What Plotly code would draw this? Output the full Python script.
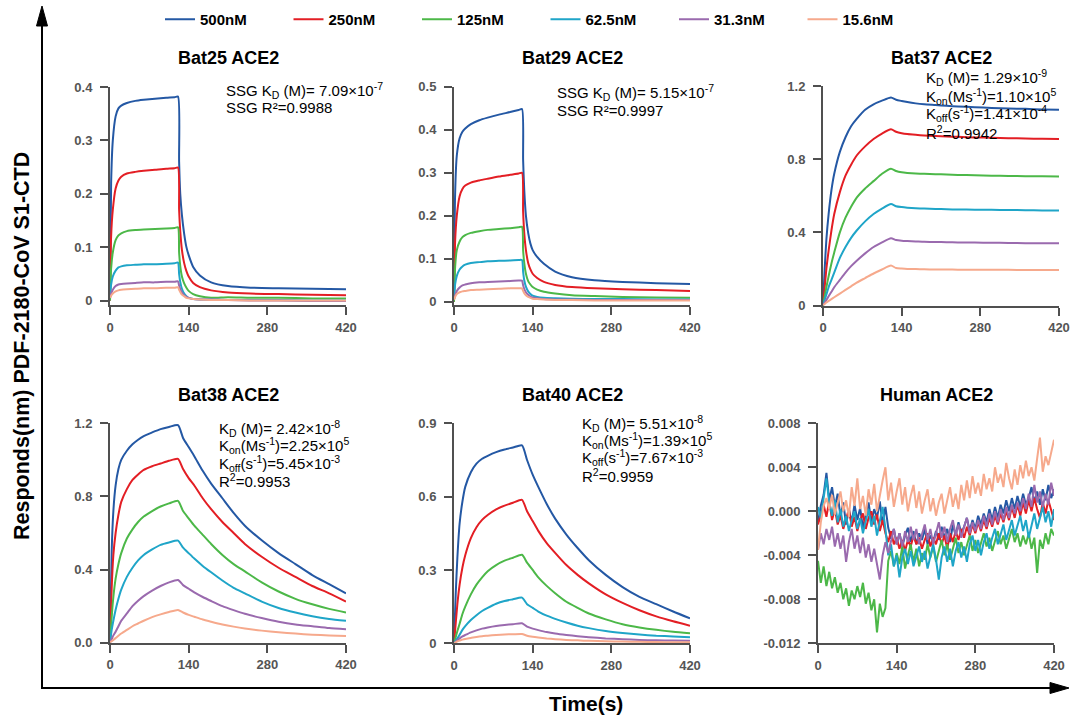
import plotly.graph_objects as go

W, H = 1073, 717
def px(x): return x / W
def py(y): return 1 - y / H

SERIES = ["500nM", "250nM", "125nM", "62.5nM", "31.3nM", "15.6nM"]
COLORS = ["#2458a4", "#e31e24", "#4cb848", "#1fa5c8", "#9a6aae", "#f6a98c"]

# time grids (s)
T_SSG = [0, 2, 5, 10, 15, 20, 30, 45, 60, 80, 100, 115, 121, 123, 125, 128, 132, 136, 140, 148, 160, 180, 210, 250, 300, 360, 420]
T_KIN = [0, 3, 6, 10, 15, 20, 30, 40, 50, 60, 75, 90, 105, 121, 130, 140, 150, 165, 180, 200, 220, 240, 270, 300, 330, 360, 390, 420]

# Bat25 ACE2
bat25_500 = [0.0, 0.22, 0.30, 0.345, 0.36, 0.365, 0.37, 0.374, 0.376, 0.378, 0.380, 0.381, 0.382, 0.26, 0.20, 0.16, 0.125, 0.10, 0.085, 0.063, 0.047, 0.034, 0.027, 0.024, 0.023, 0.022, 0.021]
bat25_250 = [0.0, 0.12, 0.17, 0.21, 0.225, 0.232, 0.238, 0.241, 0.243, 0.245, 0.247, 0.248, 0.249, 0.17, 0.13, 0.095, 0.07, 0.055, 0.045, 0.033, 0.025, 0.019, 0.015, 0.013, 0.012, 0.011, 0.010]
bat25_125 = [0.0, 0.06, 0.09, 0.113, 0.122, 0.126, 0.13, 0.132, 0.133, 0.134, 0.135, 0.136, 0.137, 0.09, 0.065, 0.045, 0.032, 0.024, 0.018, 0.012, 0.008, 0.005, 0.006, 0.005, 0.005, 0.004, 0.004]
bat25_62 = [0.005, 0.03, 0.045, 0.056, 0.062, 0.064, 0.066, 0.067, 0.068, 0.068, 0.069, 0.07, 0.071, 0.05, 0.035, 0.022, 0.013, 0.008, 0.005, 0.003, 0.002, 0.002, 0.001, 0.001, 0.001, 0.0, 0.0]
bat25_31 = [0.005, 0.013, 0.02, 0.027, 0.03, 0.031, 0.032, 0.033, 0.034, 0.034, 0.035, 0.035, 0.036, 0.028, 0.022, 0.015, 0.01, 0.007, 0.005, 0.003, 0.002, 0.002, 0.001, 0.0, 0.0, -0.001, -0.001]
bat25_15 = [0.005, 0.009, 0.013, 0.017, 0.019, 0.02, 0.021, 0.022, 0.023, 0.023, 0.024, 0.024, 0.025, 0.02, 0.016, 0.011, 0.008, 0.005, 0.004, 0.003, 0.002, 0.001, 0.001, 0.0, 0.0, 0.0, 0.0]

# Bat29 ACE2
bat29_500 = [0.0, 0.25, 0.34, 0.38, 0.395, 0.403, 0.413, 0.422, 0.428, 0.435, 0.441, 0.446, 0.448, 0.33, 0.26, 0.20, 0.16, 0.135, 0.12, 0.104, 0.088, 0.07, 0.057, 0.05, 0.046, 0.043, 0.041]
bat29_250 = [0.0, 0.14, 0.2, 0.245, 0.262, 0.27, 0.277, 0.282, 0.286, 0.291, 0.295, 0.298, 0.30, 0.21, 0.16, 0.12, 0.09, 0.075, 0.065, 0.055, 0.046, 0.039, 0.034, 0.031, 0.029, 0.027, 0.025]
bat29_125 = [0.0, 0.08, 0.12, 0.14, 0.15, 0.155, 0.16, 0.164, 0.167, 0.169, 0.171, 0.173, 0.174, 0.12, 0.09, 0.065, 0.048, 0.04, 0.034, 0.028, 0.023, 0.019, 0.015, 0.013, 0.011, 0.01, 0.009]
bat29_62 = [0.005, 0.04, 0.06, 0.075, 0.082, 0.086, 0.09, 0.092, 0.094, 0.095, 0.096, 0.097, 0.097, 0.07, 0.05, 0.035, 0.024, 0.018, 0.014, 0.011, 0.009, 0.008, 0.007, 0.006, 0.006, 0.005, 0.005]
bat29_31 = [0.005, 0.015, 0.025, 0.033, 0.038, 0.04, 0.043, 0.045, 0.046, 0.047, 0.048, 0.049, 0.049, 0.038, 0.03, 0.022, 0.016, 0.012, 0.01, 0.008, 0.006, 0.005, 0.005, 0.004, 0.004, 0.004, 0.004]
bat29_15 = [0.005, 0.011, 0.018, 0.022, 0.024, 0.025, 0.027, 0.028, 0.029, 0.03, 0.031, 0.031, 0.031, 0.025, 0.02, 0.015, 0.011, 0.009, 0.007, 0.006, 0.005, 0.004, 0.004, 0.003, 0.003, 0.003, 0.003]

# Bat37 ACE2
bat37_500 = [0.0, 0.2, 0.36, 0.5, 0.63, 0.72, 0.84, 0.92, 0.98, 1.02, 1.07, 1.1, 1.12, 1.137, 1.125, 1.118, 1.112, 1.105, 1.1, 1.096, 1.092, 1.088, 1.084, 1.08, 1.077, 1.075, 1.072, 1.07]
bat37_250 = [0.0, 0.1, 0.2, 0.3, 0.41, 0.5, 0.62, 0.71, 0.77, 0.82, 0.87, 0.91, 0.94, 0.963, 0.95, 0.942, 0.937, 0.933, 0.93, 0.927, 0.924, 0.922, 0.919, 0.917, 0.915, 0.913, 0.911, 0.91]
bat37_125 = [0.0, 0.05, 0.1, 0.16, 0.23, 0.29, 0.4, 0.48, 0.54, 0.59, 0.64, 0.68, 0.72, 0.748, 0.735, 0.728, 0.725, 0.722, 0.72, 0.718, 0.716, 0.714, 0.712, 0.71, 0.708, 0.707, 0.706, 0.705]
bat37_62 = [0.0, 0.03, 0.06, 0.1, 0.14, 0.18, 0.26, 0.32, 0.37, 0.41, 0.46, 0.5, 0.53, 0.555, 0.543, 0.538, 0.535, 0.532, 0.53, 0.528, 0.526, 0.525, 0.524, 0.523, 0.522, 0.521, 0.52, 0.52]
bat37_31 = [0.0, 0.015, 0.03, 0.05, 0.075, 0.1, 0.14, 0.18, 0.215, 0.245, 0.285, 0.32, 0.345, 0.368, 0.358, 0.354, 0.352, 0.35, 0.348, 0.347, 0.346, 0.345, 0.344, 0.343, 0.342, 0.341, 0.34, 0.34]
bat37_15 = [0.0, 0.008, 0.016, 0.025, 0.035, 0.045, 0.065, 0.085, 0.105, 0.125, 0.15, 0.175, 0.197, 0.218, 0.205, 0.202, 0.2, 0.199, 0.198, 0.197, 0.197, 0.196, 0.196, 0.195, 0.195, 0.194, 0.194, 0.194]

# Bat38 ACE2
bat38_500 = [0.0, 0.5, 0.72, 0.86, 0.95, 1.0, 1.05, 1.085, 1.11, 1.13, 1.15, 1.168, 1.18, 1.19, 1.12, 1.07, 1.02, 0.94, 0.87, 0.79, 0.71, 0.64, 0.56, 0.49, 0.43, 0.37, 0.32, 0.27]
bat38_250 = [0.0, 0.3, 0.48, 0.6, 0.7, 0.77, 0.84, 0.89, 0.92, 0.945, 0.965, 0.98, 0.995, 1.005, 0.95, 0.9, 0.86, 0.79, 0.73, 0.66, 0.6, 0.54, 0.47, 0.41, 0.36, 0.31, 0.27, 0.225]
bat38_125 = [0.0, 0.14, 0.25, 0.35, 0.43, 0.49, 0.57, 0.62, 0.66, 0.69, 0.72, 0.745, 0.762, 0.776, 0.72, 0.68, 0.64, 0.59, 0.54, 0.48, 0.43, 0.39, 0.33, 0.28, 0.24, 0.21, 0.185, 0.165]
bat38_62 = [0.0, 0.07, 0.12, 0.18, 0.24, 0.29, 0.36, 0.41, 0.45, 0.48, 0.51, 0.535, 0.548, 0.558, 0.52, 0.49, 0.46, 0.42, 0.385, 0.34, 0.3, 0.27, 0.225, 0.19, 0.165, 0.145, 0.13, 0.12]
bat38_31 = [0.0, 0.02, 0.04, 0.06, 0.09, 0.12, 0.16, 0.2, 0.23, 0.255, 0.285, 0.31, 0.33, 0.343, 0.315, 0.295, 0.275, 0.25, 0.228, 0.2, 0.178, 0.158, 0.135, 0.115, 0.1, 0.09, 0.08, 0.073]
bat38_15 = [0.0, 0.008, 0.015, 0.025, 0.038, 0.05, 0.07, 0.09, 0.105, 0.12, 0.14, 0.155, 0.168, 0.179, 0.165, 0.152, 0.142, 0.127, 0.115, 0.1, 0.088, 0.078, 0.066, 0.057, 0.05, 0.044, 0.04, 0.036]

# Bat40 ACE2
bat40_500 = [0.0, 0.2, 0.35, 0.49, 0.58, 0.64, 0.7, 0.735, 0.755, 0.767, 0.782, 0.793, 0.801, 0.81, 0.75, 0.69, 0.64, 0.57, 0.51, 0.445, 0.39, 0.34, 0.28, 0.23, 0.19, 0.16, 0.13, 0.102]
bat40_250 = [0.0, 0.08, 0.16, 0.24, 0.31, 0.36, 0.43, 0.475, 0.505, 0.525, 0.548, 0.563, 0.575, 0.587, 0.54, 0.5, 0.46, 0.41, 0.37, 0.32, 0.28, 0.245, 0.2, 0.165, 0.135, 0.11, 0.09, 0.072]
bat40_125 = [0.0, 0.025, 0.05, 0.08, 0.12, 0.15, 0.2, 0.24, 0.27, 0.295, 0.32, 0.338, 0.35, 0.362, 0.33, 0.3, 0.27, 0.235, 0.205, 0.17, 0.145, 0.122, 0.098, 0.078, 0.065, 0.055, 0.047, 0.041]
bat40_62 = [0.0, 0.01, 0.02, 0.035, 0.055, 0.07, 0.095, 0.115, 0.132, 0.145, 0.162, 0.173, 0.18, 0.187, 0.16, 0.145, 0.13, 0.113, 0.1, 0.085, 0.072, 0.062, 0.05, 0.042, 0.036, 0.031, 0.028, 0.025]
bat40_31 = [0.0, 0.006, 0.012, 0.02, 0.028, 0.034, 0.045, 0.053, 0.06, 0.065, 0.071, 0.075, 0.078, 0.082, 0.068, 0.06, 0.054, 0.046, 0.04, 0.034, 0.029, 0.025, 0.02, 0.017, 0.014, 0.012, 0.011, 0.01]
bat40_15 = [0.0, 0.004, 0.008, 0.011, 0.015, 0.018, 0.022, 0.026, 0.029, 0.031, 0.034, 0.036, 0.037, 0.038, 0.031, 0.027, 0.024, 0.02, 0.017, 0.014, 0.012, 0.01, 0.008, 0.007, 0.006, 0.005, 0.004, 0.004]

# Human ACE2 (values in 1e-3 nm, sampled every 5 s from 0 to 420 s)
T_HUM = list(range(0, 421, 5))
hum_500 = [-1.0, 0.5, 1.5, 3.5, 1.0, 2.2, 0.4, 1.6, -0.5, 0.8,
           -1.2, 0.2, -1.0, 0.6, -0.8, 0.3, -1.5, -0.2, 0.8, -1.0,
           0.2, -0.6, 0.9, -1.2, 0.4, -1.5, -2.5, -1.6, -3.0, -2.0,
           -3.2, -2.2, -1.5, -2.8, -1.8, -3.0, -2.0, -2.6, -1.6, -3.0,
           -2.2, -2.8, -1.8, -2.6, -1.4, -2.4, -1.6, -2.8, -1.2, -2.2,
           -1.0, -2.0, -1.4, -0.6, -1.8, -0.8, -1.6, -0.4, -1.2, -0.2,
           -1.0, 0.2, -0.8, 0.4, -0.6, 0.6, -0.2, 1.0, 0.0, 1.2,
           0.2, 1.4, 0.4, 1.6, 0.6, 1.2, 2.2, 0.8, 1.8, 0.6,
           2.0, 1.0, 2.4, 1.2, 2.0]
hum_250 = [-1.2, -0.2, 0.6, -0.5, 1.0, -0.8, 0.2, -1.2, -0.4, -1.6,
           -0.6, 0.2, -1.4, -0.5, -1.8, -0.8, -0.2, -1.6, -0.6, 0.0,
           -1.2, -0.3, -1.8, -0.8, -2.0, -2.8, -1.8, -3.0, -2.4, -3.4,
           -2.6, -3.6, -2.6, -3.2, -2.2, -3.0, -2.4, -3.4, -2.6, -2.0,
           -3.2, -2.4, -3.0, -2.0, -3.0, -2.2, -3.4, -2.0, -2.8, -1.8,
           -2.6, -1.6, -2.4, -1.4, -2.2, -1.2, -2.0, -1.0, -1.8, -0.8,
           -1.6, -0.6, -1.4, -0.4, -1.2, -0.2, -1.0, 0.0, -0.8, 0.4,
           -0.6, 0.6, -0.4, 0.8, -0.2, 1.0, 0.0, 1.2, 0.2, -0.6,
           0.8, -0.2, 1.0, 0.2, -0.8]
hum_125 = [-4.5, -6.5, -5.0, -6.8, -5.5, -7.0, -6.0, -7.4, -6.5, -8.0,
           -7.0, -8.6, -7.2, -8.0, -6.8, -7.8, -6.5, -8.4, -7.4, -9.0,
           -8.0, -11.0, -8.4, -9.6, -8.8, -4.5, -3.6, -5.0, -3.8, -4.8,
           -3.2, -5.2, -4.0, -3.0, -4.6, -3.4, -5.0, -3.8, -4.4, -3.0,
           -4.2, -3.2, -4.6, -3.6, -2.6, -4.0, -3.0, -4.4, -3.4, -2.4,
           -3.8, -2.8, -4.0, -3.0, -2.2, -3.6, -2.6, -3.8, -2.8, -2.0,
           -3.2, -2.4, -3.6, -2.6, -1.8, -3.0, -2.2, -3.4, -2.4, -1.6,
           -2.8, -2.0, -3.2, -2.2, -3.0, -2.0, -3.4, -2.4, -5.6, -2.6,
           -3.4, -2.0, -3.0, -1.6, -2.2]
hum_62 = [0.4, -0.6, 1.2, 3.0, 0.8, -0.4, 1.0, -1.0, 0.2, -1.4,
          -0.4, -1.8, -0.8, 0.0, -1.6, -0.6, -2.0, -1.0, 0.2, -1.4,
          -0.4, -2.2, -1.0, 0.4, -1.6, -4.0, -3.0, -5.0, -4.0, -6.0,
          -4.2, -3.4, -4.8, -3.6, -5.0, -4.0, -3.2, -4.6, -3.6, -5.2,
          -4.0, -3.0, -4.4, -6.2, -4.2, -3.2, -4.6, -3.4, -5.0, -3.6,
          -2.8, -4.2, -3.2, -4.6, -3.0, -2.2, -3.6, -2.6, -4.0, -2.8,
          -2.0, -3.4, -2.4, -1.6, -3.0, -2.0, -1.2, -2.6, -1.6, -0.8,
          -2.2, -1.2, -0.4, -1.8, -0.8, -2.4, -1.2, -0.2, -1.6, -0.6,
          0.4, -1.0, 0.0, -1.4, 0.2]
hum_31 = [-3.5, -2.0, -3.0, -1.6, -2.6, -1.4, -3.2, -2.0, -3.4, -2.2,
          -4.6, -2.8, -1.6, -3.4, -2.2, -3.8, -2.4, -4.2, -3.0, -4.6,
          -3.4, -5.0, -6.2, -4.0, -2.8, -3.8, -2.6, -1.6, -3.0, -2.0,
          -3.2, -1.8, -2.8, -1.4, -2.6, -1.6, -3.0, -2.0, -1.2, -2.6,
          -1.6, -3.0, -2.0, -1.0, -2.4, -1.4, -2.8, -1.6, -0.8, -2.2,
          -1.2, -2.4, -1.4, -0.6, -2.0, -1.0, -1.8, -0.8, -1.6, -0.4,
          -1.4, -0.2, -1.2, 0.0, -1.0, 0.2, -0.8, 0.4, -0.6, 0.6,
          -0.2, 0.8, 0.0, 1.2, 0.2, 1.6, 0.4, 2.4, 0.8, 1.8,
          0.4, 1.6, 0.6, 2.6, 1.4]
hum_15 = [-3.5, -1.0, 0.5, 1.2, 0.2, 1.5, -0.3, 0.8, 1.8, 0.0,
          1.0, -0.5, 2.2, 0.5, 3.0, 0.2, 1.4, -0.4, 2.0, 0.6,
          2.5, 0.0, 1.6, 2.8, 4.0, 1.0, 2.6, 0.4, 1.8, 3.0,
          0.6, 2.2, 0.0, 1.4, 2.4, 0.3, 1.8, -0.2, 1.0, 2.0,
          0.0, 1.2, -0.4, 0.8, 1.6, -0.2, 1.0, 2.2, 0.4, 1.6,
          0.2, 2.4, 1.0, 2.8, 1.2, 3.2, 1.6, 2.6, 1.4, 3.4,
          2.0, 3.0, 1.8, 4.0, 2.6, 3.4, 2.2, 4.4, 3.0, 2.0,
          3.8, 2.4, 4.2, 3.0, 4.6, 3.2, 4.0, 2.8, 4.8, 6.7,
          3.6, 5.0, 4.2, 5.4, 6.5]

X_TICKS = [0, 140, 280, 420]

panels = [
    dict(title="Bat25 ACE2", t=T_SSG, ys=[bat25_500, bat25_250, bat25_125, bat25_62, bat25_31, bat25_15], scale=1.0,
         dom=(110, 346, 87, 305), yr=[-0.0084, 0.4], yt=[0, 0.1, 0.2, 0.3, 0.4], ytt=["0", "0.1", "0.2", "0.3", "0.4"], shape="spline"),
    dict(title="Bat29 ACE2", t=T_SSG, ys=[bat29_500, bat29_250, bat29_125, bat29_62, bat29_31, bat29_15], scale=1.0,
         dom=(454, 690, 86.7, 305), yr=[-0.0077, 0.5], yt=[0, 0.1, 0.2, 0.3, 0.4, 0.5], ytt=["0", "0.1", "0.2", "0.3", "0.4", "0.5"], shape="spline"),
    dict(title="Bat37 ACE2", t=T_KIN, ys=[bat37_500, bat37_250, bat37_125, bat37_62, bat37_31, bat37_15], scale=1.0,
         dom=(823, 1059, 86, 305.5), yr=[0, 1.2], yt=[0, 0.4, 0.8, 1.2], ytt=["0", "0.4", "0.8", "1.2"], shape="spline"),
    dict(title="Bat38 ACE2", t=T_KIN, ys=[bat38_500, bat38_250, bat38_125, bat38_62, bat38_31, bat38_15], scale=1.0,
         dom=(110, 346, 423.3, 642.7), yr=[0, 1.2], yt=[0, 0.4, 0.8, 1.2], ytt=["0.0", "0.4", "0.8", "1.2"], shape="spline"),
    dict(title="Bat40 ACE2", t=T_KIN, ys=[bat40_500, bat40_250, bat40_125, bat40_62, bat40_31, bat40_15], scale=1.0,
         dom=(454, 690, 423.3, 643.3), yr=[0, 0.9], yt=[0, 0.3, 0.6, 0.9], ytt=["0", "0.3", "0.6", "0.9"], shape="spline"),
    dict(title="Human ACE2", t=T_HUM, ys=[hum_500, hum_250, hum_125, hum_62, hum_31, hum_15], scale=0.001,
         dom=(818, 1054, 423.3, 643.3), yr=[-0.012, 0.008], yt=[-0.012, -0.008, -0.004, 0, 0.004, 0.008],
         ytt=["-0.012", "-0.008", "-0.004", "0.000", "0.004", "0.008"], shape="linear"),
]

fig = go.Figure()
AX = "#505050"
FONT = "Liberation Sans, Arial"
TICKFONT = dict(family=FONT, size=13, color="#555555", weight="bold")
annotations = []

for i, p in enumerate(panels):
    n = "" if i == 0 else str(i + 1)
    xa, ya = "x" + n, "y" + n
    for k, (name, col) in enumerate(zip(SERIES, COLORS)):
        yv = [v * p["scale"] for v in p["ys"][k]]
        line = dict(color=col, width=2, shape=p["shape"])
        if p["shape"] == "spline":
            line["smoothing"] = 0.6
        fig.add_trace(go.Scatter(
            x=p["t"], y=yv, mode="lines", name=name, legendgroup=name,
            showlegend=(i == 0), line=line, xaxis=xa, yaxis=ya, hoverinfo="skip"))
    x0, x1, y0, y1 = p["dom"]
    common = dict(showline=True, linecolor=AX, linewidth=2, ticks="outside", ticklen=8,
                  tickwidth=2, tickcolor=AX, showgrid=False, zeroline=False, tickfont=TICKFONT)
    fig.layout["xaxis" + n] = dict(domain=[px(x0), px(x1)], anchor=ya, range=[0, 420], tickvals=X_TICKS,
                                   ticklabelstandoff=1, **common)
    fig.layout["yaxis" + n] = dict(domain=[py(y1), py(y0)], anchor=xa, range=p["yr"], tickvals=p["yt"], ticktext=p["ytt"],
                                   ticklabelstandoff=5, **common)
    ty = 58 if i < 3 else 395
    annotations.append(dict(x=px((x0 + x1) / 2), y=py(ty), xref="paper", yref="paper", text=p["title"],
                            showarrow=False, xanchor="center", yanchor="middle",
                            font=dict(family=FONT, size=18, color="black", weight="bold")))

# kinetic parameter texts
TXT = dict(family=FONT, size=15, color="black")
kin_texts = [
    (224, [90, 107], ["SSG K<sub>D</sub> (M)= 7.09×10<sup>-7</sup>", "SSG R²=0.9988"]),
    (555, [93, 110], ["SSG K<sub>D</sub> (M)= 5.15×10<sup>-7</sup>", "SSG R²=0.9997"]),
    (924, [78, 96, 114, 132], ["K<sub>D</sub> (M)= 1.29×10<sup>-9</sup>", "K<sub>on</sub>(Ms<sup>-1</sup>)=1.10×10<sup>5</sup>",
                               "K<sub>off</sub>(s<sup>-1</sup>)=1.41×10<sup>-4</sup>", "R<sup>2</sup>=0.9942"]),
    (217, [428, 446, 463, 480], ["K<sub>D</sub> (M)= 2.42×10<sup>-8</sup>", "K<sub>on</sub>(Ms<sup>-1</sup>)=2.25×10<sup>5</sup>",
                                 "K<sub>off</sub>(s<sup>-1</sup>)=5.45×10<sup>-3</sup>", "R<sup>2</sup>=0.9953"]),
    (580, [423, 440, 457, 475], ["K<sub>D</sub> (M)= 5.51×10<sup>-8</sup>", "K<sub>on</sub>(Ms<sup>-1</sup>)=1.39×10<sup>5</sup>",
                                 "K<sub>off</sub>(s<sup>-1</sup>)=7.67×10<sup>-3</sup>", "R<sup>2</sup>=0.9959"]),
]
for xl, ys, lines in kin_texts:
    for yy, t in zip(ys, lines):
        annotations.append(dict(x=px(xl), y=py(yy), xref="paper", yref="paper", text=t, showarrow=False,
                                xanchor="left", yanchor="middle", font=TXT))

# global axis titles
annotations.append(dict(x=px(22), y=py(346), xref="paper", yref="paper", text="Responds(nm) PDF-2180-CoV S1-CTD",
                        textangle=-90, showarrow=False, xanchor="center", yanchor="middle",
                        font=dict(family=FONT, size=21.5, color="black", weight="bold")))
annotations.append(dict(x=px(586), y=py(703), xref="paper", yref="paper", text="Time(s)",
                        showarrow=False, xanchor="center", yanchor="middle",
                        font=dict(family=FONT, size=21, color="black", weight="bold")))

shapes = [
    dict(type="line", xref="paper", yref="paper", x0=px(42), x1=px(42), y0=py(688), y1=py(24), line=dict(color="black", width=2)),
    dict(type="path", xref="paper", yref="paper", path=f"M {px(42)} {py(6)} L {px(36.5)} {py(26)} L {px(47.5)} {py(26)} Z",
         fillcolor="black", line=dict(color="black", width=1)),
    dict(type="line", xref="paper", yref="paper", x0=px(41), x1=px(1052), y0=py(688), y1=py(688), line=dict(color="black", width=2)),
    dict(type="path", xref="paper", yref="paper", path=f"M {px(1069)} {py(688)} L {px(1050)} {py(682.5)} L {px(1050)} {py(693.5)} Z",
         fillcolor="black", line=dict(color="black", width=1)),
]

fig.update_layout(
    width=W, height=H, autosize=False, margin=dict(l=0, r=0, t=0, b=0, autoexpand=False),
    paper_bgcolor="white", plot_bgcolor="white",
    annotations=annotations, shapes=shapes,
    legend=dict(orientation="h", x=px(160), y=py(3), xanchor="left", yanchor="top",
                entrywidth=83.5, entrywidthmode="pixels", itemwidth=30, tracegroupgap=0,
                font=dict(family=FONT, size=15, color="black", weight="bold"),
                bgcolor="rgba(0,0,0,0)"),
)

fig.write_html("out.html", config={"displayModeBar": False},
               post_script="document.body.style.margin='0px';document.body.style.overflow='hidden';")
